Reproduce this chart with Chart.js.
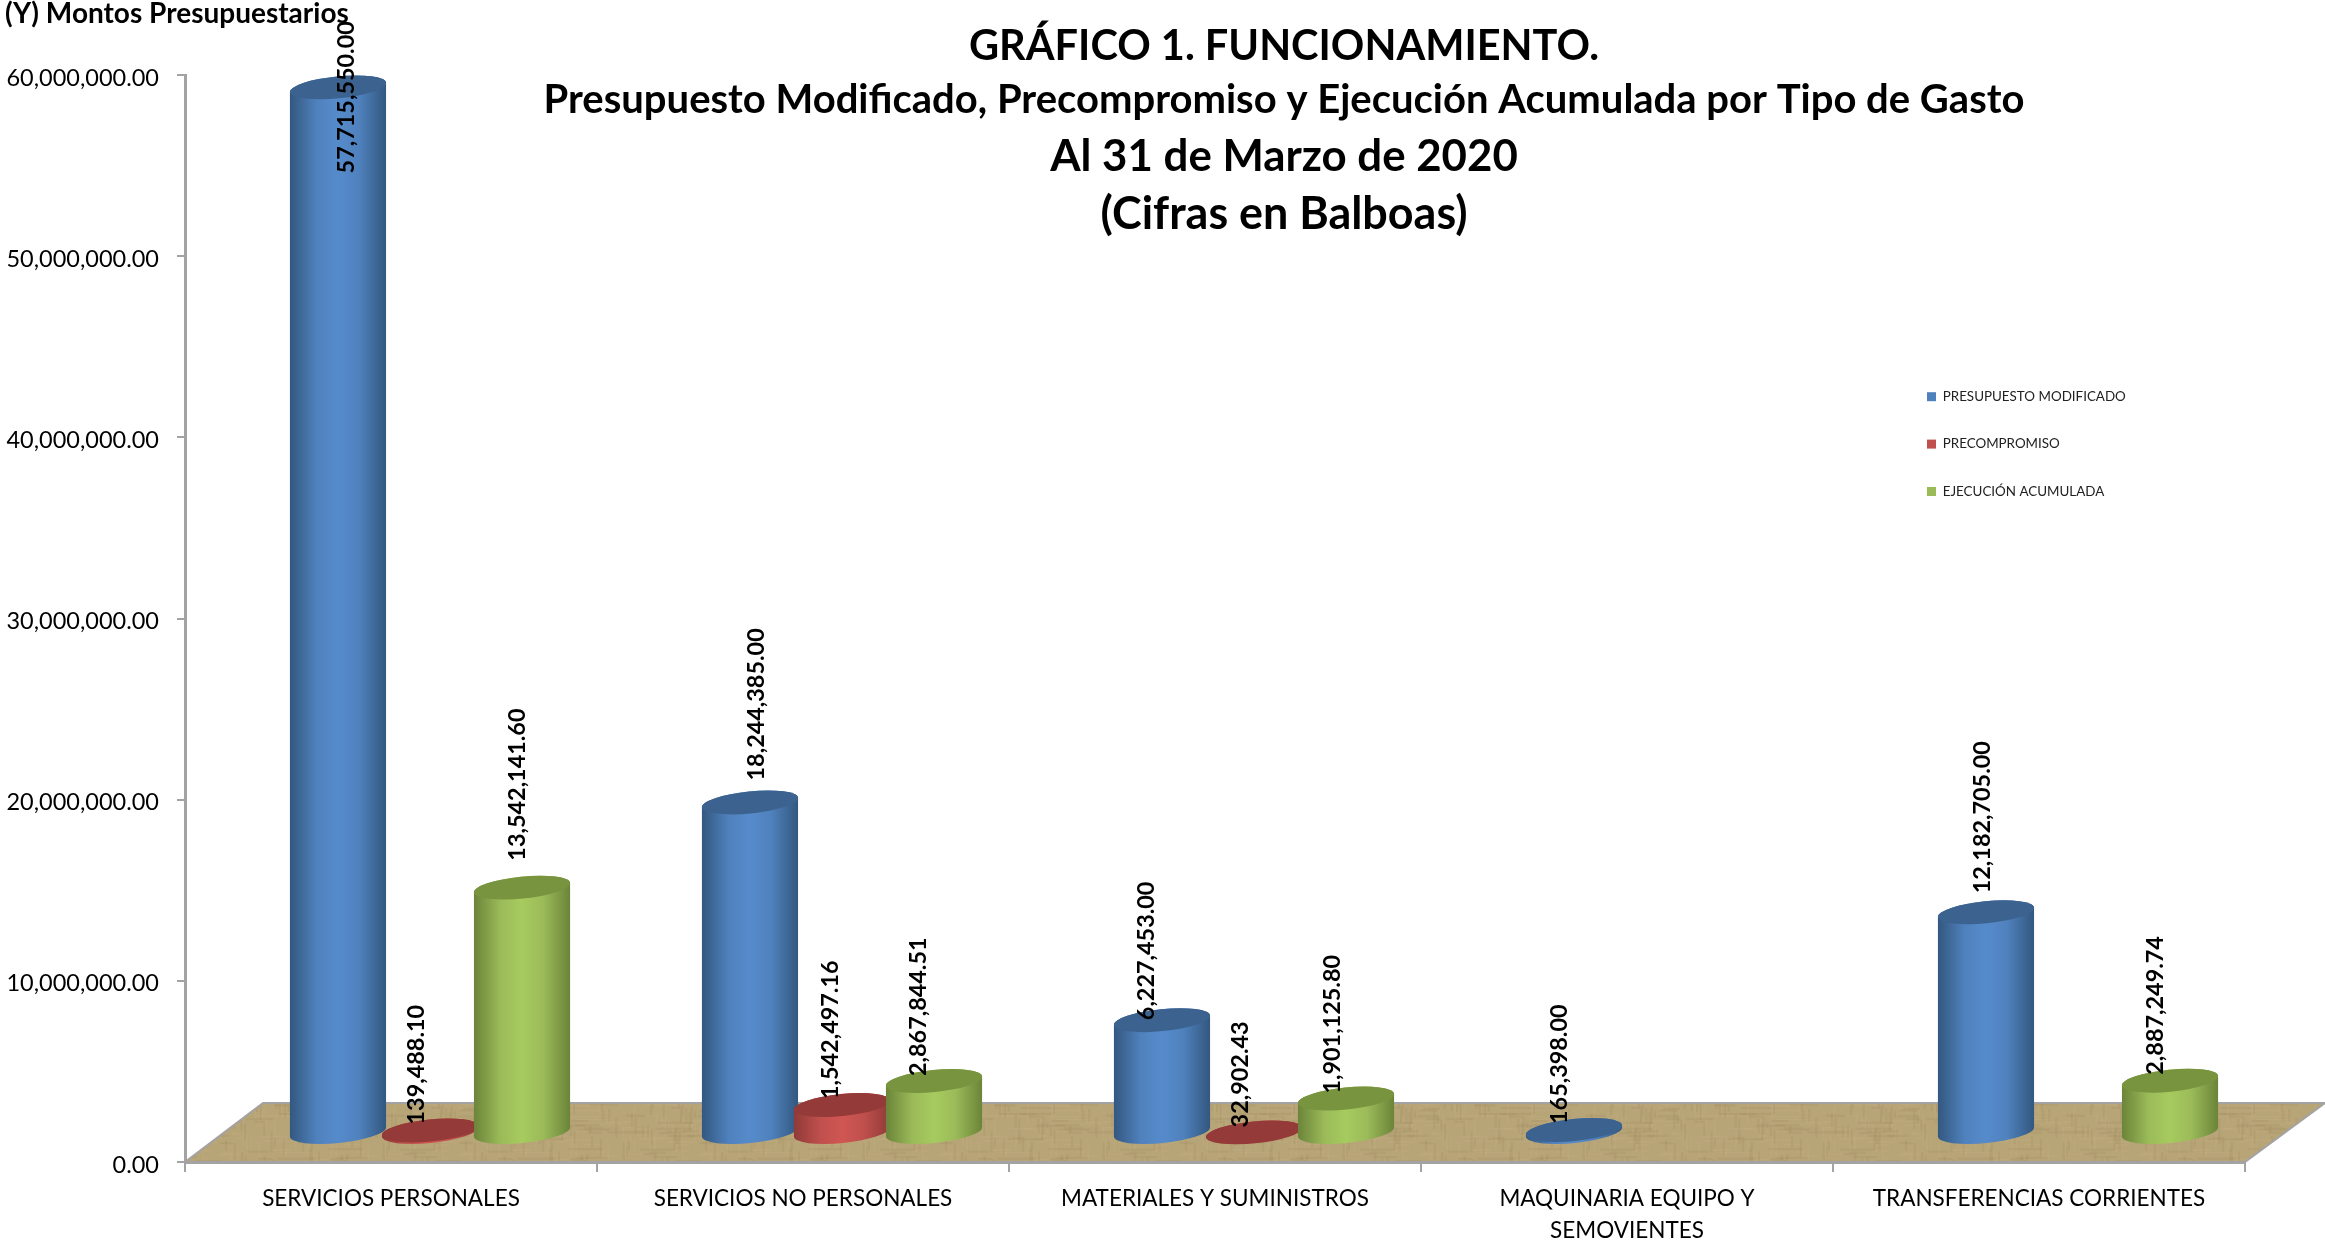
<!DOCTYPE html>
<html lang="es">
<head>
<meta charset="utf-8">
<title>Gráfico 1. Funcionamiento</title>
<script src="https://cdn.jsdelivr.net/npm/chart.js@4/dist/chart.umd.js"></script>
<style>
    html, body { margin: 0; padding: 0; background: #fff; }
    canvas { display: block; }
</style>
</head>
<body>
<canvas id="grafico" width="2325" height="1244"></canvas>
<script>
// Datos
const categorias = [
    'SERVICIOS PERSONALES',
    'SERVICIOS NO PERSONALES',
    'MATERIALES Y SUMINISTROS',
    ['MAQUINARIA EQUIPO Y', 'SEMOVIENTES'],
    'TRANSFERENCIAS CORRIENTES'
];
const presupuestoModificado = [57715550.00, 18244385.00, 6227453.00, 165398.00, 12182705.00];
const precompromiso = [139488.10, 1542497.16, 32902.43, null, null];
const ejecucionAcumulada = [13542141.60, 2867844.51, 1901125.80, null, 2887249.74];

const titulos = [
    'GRÁFICO 1. FUNCIONAMIENTO.',
    'Presupuesto Modificado, Precompromiso y Ejecución Acumulada por Tipo de Gasto',
    'Al 31 de Marzo de 2020',
    '(Cifras en Balboas)'
];
const tituloEjeY = '(Y) Montos Presupuestarios';

// Ajustes a mano de las etiquetas: [dx desde el centro de la barra, separacion sobre la barra]
const ajusteEtiquetas = [
    [[8, -86], [-14, 6], [-5, 27]],
    [[6, 22], [-12, 6], [-16, 5]],
    [[-16, 0], [-14, 5], [-14, 5]],
    [[-15, 6], null, null],
    [[-4, 19], null, [-15, 6]]
];

const FUENTE = 'Lato, sans-serif';
const GRIS = '#a3a3a3';
const profundidad = { x: 39, y: -29 };
const inclinacion = -5.7 * Math.PI / 180;

const colores = [
    { base: '#4f81bd', borde: '#33577f', claro: '#568bcb', tapa: '#3c638f' },
    { base: '#c0504d', borde: '#8f3a38', claro: '#cf5653', tapa: '#943a38' },
    { base: '#9bbb59', borde: '#6b8439', claro: '#a6cb5f', tapa: '#78943f' }
];

function dinero(v) {
    return v.toLocaleString('en-US', { minimumFractionDigits: 2, maximumFractionDigits: 2 });
}

// Barra dibujada como cilindro
class CilindroElement extends Chart.BarElement {
    static id = 'cilindro';

    draw(ctx) {
        const { x, y, base, width } = this.getProps(['x', 'y', 'base', 'width']);
        const c = colores.find((col) => col.base === this.options.backgroundColor);
        const a = width / 2;
        const b = 11;

        const grad = ctx.createLinearGradient(x - a, 0, x + a, 0);
        grad.addColorStop(0, c.borde);
        grad.addColorStop(0.28, c.base);
        grad.addColorStop(0.5, c.claro);
        grad.addColorStop(0.72, c.base);
        grad.addColorStop(1, c.borde);

        ctx.save();
        ctx.beginPath();
        ctx.ellipse(x, base, a, b, inclinacion, 0, Math.PI);
        ctx.ellipse(x, y, a, b, inclinacion, Math.PI, 2 * Math.PI);
        ctx.closePath();
        ctx.fillStyle = grad;
        ctx.fill();

        ctx.beginPath();
        ctx.ellipse(x, y, a, b, inclinacion, 0, 2 * Math.PI);
        ctx.fillStyle = c.tapa;
        ctx.fill();
        ctx.restore();
    }
}

class CilindroController extends Chart.BarController {
    static id = 'cilindro';
    static defaults = Object.assign({}, Chart.BarController.defaults, { dataElementType: 'cilindro' });
}

Chart.register(CilindroElement, CilindroController);

// Textura del piso
function crearTextura(ctx) {
    const tile = document.createElement('canvas');
    tile.width = 240;
    tile.height = 120;
    const t = tile.getContext('2d');
    t.fillStyle = '#b7a477';
    t.fillRect(0, 0, 240, 120);
    let semilla = 17;
    function siguiente() {
        semilla = (semilla * 137 + 59) % 1009;
        return semilla / 1009;
    }
    for (let i = 0; i < 420; i++) {
        const oscuro = siguiente() > 0.5;
        t.fillStyle = oscuro ? 'rgba(120,100,60,0.09)' : 'rgba(225,205,160,0.09)';
        const px = siguiente() * 240;
        const py = siguiente() * 120;
        if (siguiente() > 0.5) t.fillRect(px, py, 10 + siguiente() * 30, 2);
        else t.fillRect(px, py, 2, 6 + siguiente() * 14);
    }
    return ctx.createPattern(tile, 'repeat');
}

const pisoPlugin = {
    id: 'piso',
    beforeDraw(chart) {
        const { ctx, chartArea } = chart;
        const x0 = chartArea.left;
        const x1 = chartArea.right;
        const y0 = chartArea.bottom;
        const yFondo = y0 - 59;
        ctx.save();
        ctx.beginPath();
        ctx.moveTo(x0, y0);
        ctx.lineTo(x0 + 78, yFondo);
        ctx.lineTo(x1 + 80, yFondo);
        ctx.lineTo(x1, y0);
        ctx.closePath();
        ctx.fillStyle = crearTextura(ctx);
        ctx.fill();
        ctx.lineWidth = 2;
        ctx.strokeStyle = GRIS;
        ctx.stroke();
        ctx.restore();
    }
};

// Dibuja los cilindros en orden de serie, desplazados por la profundidad, y sus etiquetas
const cilindrosPlugin = {
    id: 'cilindros',
    beforeDatasetsDraw(chart) {
        const { ctx } = chart;
        ctx.save();
        ctx.translate(profundidad.x, profundidad.y);
        chart.data.datasets.forEach((ds, i) => chart.getDatasetMeta(i).controller.draw());
        ctx.restore();

        ctx.save();
        ctx.fillStyle = '#000';
        ctx.font = 'bold 23.4px ' + FUENTE;
        ctx.textAlign = 'left';
        ctx.textBaseline = 'middle';
        chart.data.datasets.forEach((ds, i) => {
            chart.getDatasetMeta(i).data.forEach((el, j) => {
                const ajuste = ajusteEtiquetas[j][i];
                if (ds.data[j] === null || !ajuste) return;
                ctx.save();
                ctx.translate(el.x + profundidad.x + ajuste[0], el.y + profundidad.y - ajuste[1]);
                ctx.rotate(-Math.PI / 2);
                ctx.fillText(dinero(ds.data[j]), 0, 0);
                ctx.restore();
            });
        });
        ctx.restore();
        return false;
    }
};

// Titulo de cuatro lineas y titulo del eje Y
const textosPlugin = {
    id: 'textos',
    afterDraw(chart) {
        const { ctx } = chart;
        const tamanos = [41.5, 40, 43.8, 44.9];
        const lineasBase = [60, 113, 171, 229];
        ctx.save();
        ctx.fillStyle = '#000';
        ctx.textAlign = 'center';
        ctx.textBaseline = 'alphabetic';
        titulos.forEach((t, i) => {
            ctx.font = 'bold ' + tamanos[i] + 'px ' + FUENTE;
            ctx.fillText(t, 1284, lineasBase[i]);
        });
        ctx.textAlign = 'left';
        ctx.font = 'bold 28px ' + FUENTE;
        ctx.fillText(tituloEjeY, 5, 23);
        ctx.restore();
    }
};

// Coloca la leyenda nativa dentro del area del grafico y baja un poco las etiquetas del eje Y
const leyendaPlugin = {
    id: 'leyendaPos',
    afterLayout(chart) {
        const l = chart.legend;
        l.left = 1893;
        l.right = 2200;
        l.top = 356;
        l.bottom = 620;

        const ejeY = chart.scales.y;
        const calcular = ejeY._computeLabelItems.bind(ejeY);
        ejeY._labelItems = null;
        ejeY._computeLabelItems = (area) => {
            const items = calcular(area);
            items.forEach((it) => { it.options.translation[1] += 3; });
            return items;
        };
    }
};

const hacerDataset = (label, data, i) => ({
    label: label,
    data: data,
    backgroundColor: colores[i].base,
    borderWidth: 0,
    barPercentage: 1.05,
    categoryPercentage: 0.67
});

new Chart(document.getElementById('grafico'), {
    type: 'cilindro',
    data: {
        labels: categorias,
        datasets: [
            hacerDataset('PRESUPUESTO MODIFICADO', presupuestoModificado, 0),
            hacerDataset('PRECOMPROMISO', precompromiso, 1),
            hacerDataset('EJECUCIÓN ACUMULADA', ejecucionAcumulada, 2)
        ]
    },
    plugins: [pisoPlugin, cilindrosPlugin, textosPlugin, leyendaPlugin],
    options: {
        responsive: false,
        animation: false,
        devicePixelRatio: 1,
        layout: { padding: { top: 75, right: 80, left: 0, bottom: 0 } },
        plugins: {
            tooltip: { enabled: false },
            title: { display: false },
            legend: {
                position: 'chartArea',
                align: 'start',
                labels: {
                    boxWidth: 9,
                    boxHeight: 9,
                    padding: 34,
                    color: '#222',
                    font: { family: FUENTE, size: 13.4 }
                }
            }
        },
        scales: {
            x: {
                grid: { drawOnChartArea: false, color: GRIS, tickLength: 10, lineWidth: 2 },
                border: { color: GRIS, width: 3 },
                ticks: {
                    color: '#000',
                    maxRotation: 0,
                    autoSkip: false,
                    padding: 11,
                    font: { family: FUENTE, size: 22.5, lineHeight: 1.42 }
                },
                afterFit(s) { s.height = 82; }
            },
            y: {
                min: 0,
                max: 60000000,
                grid: { drawOnChartArea: false, color: GRIS, tickLength: 8, lineWidth: 2 },
                border: { color: GRIS, width: 3 },
                ticks: {
                    stepSize: 10000000,
                    color: '#000',
                    padding: 18,
                    font: { family: FUENTE, size: 23.5 },
                    callback: (v) => dinero(v)
                },
                afterFit(s) { s.width = 185; }
            }
        }
    }
});
</script>
</body>
</html>
